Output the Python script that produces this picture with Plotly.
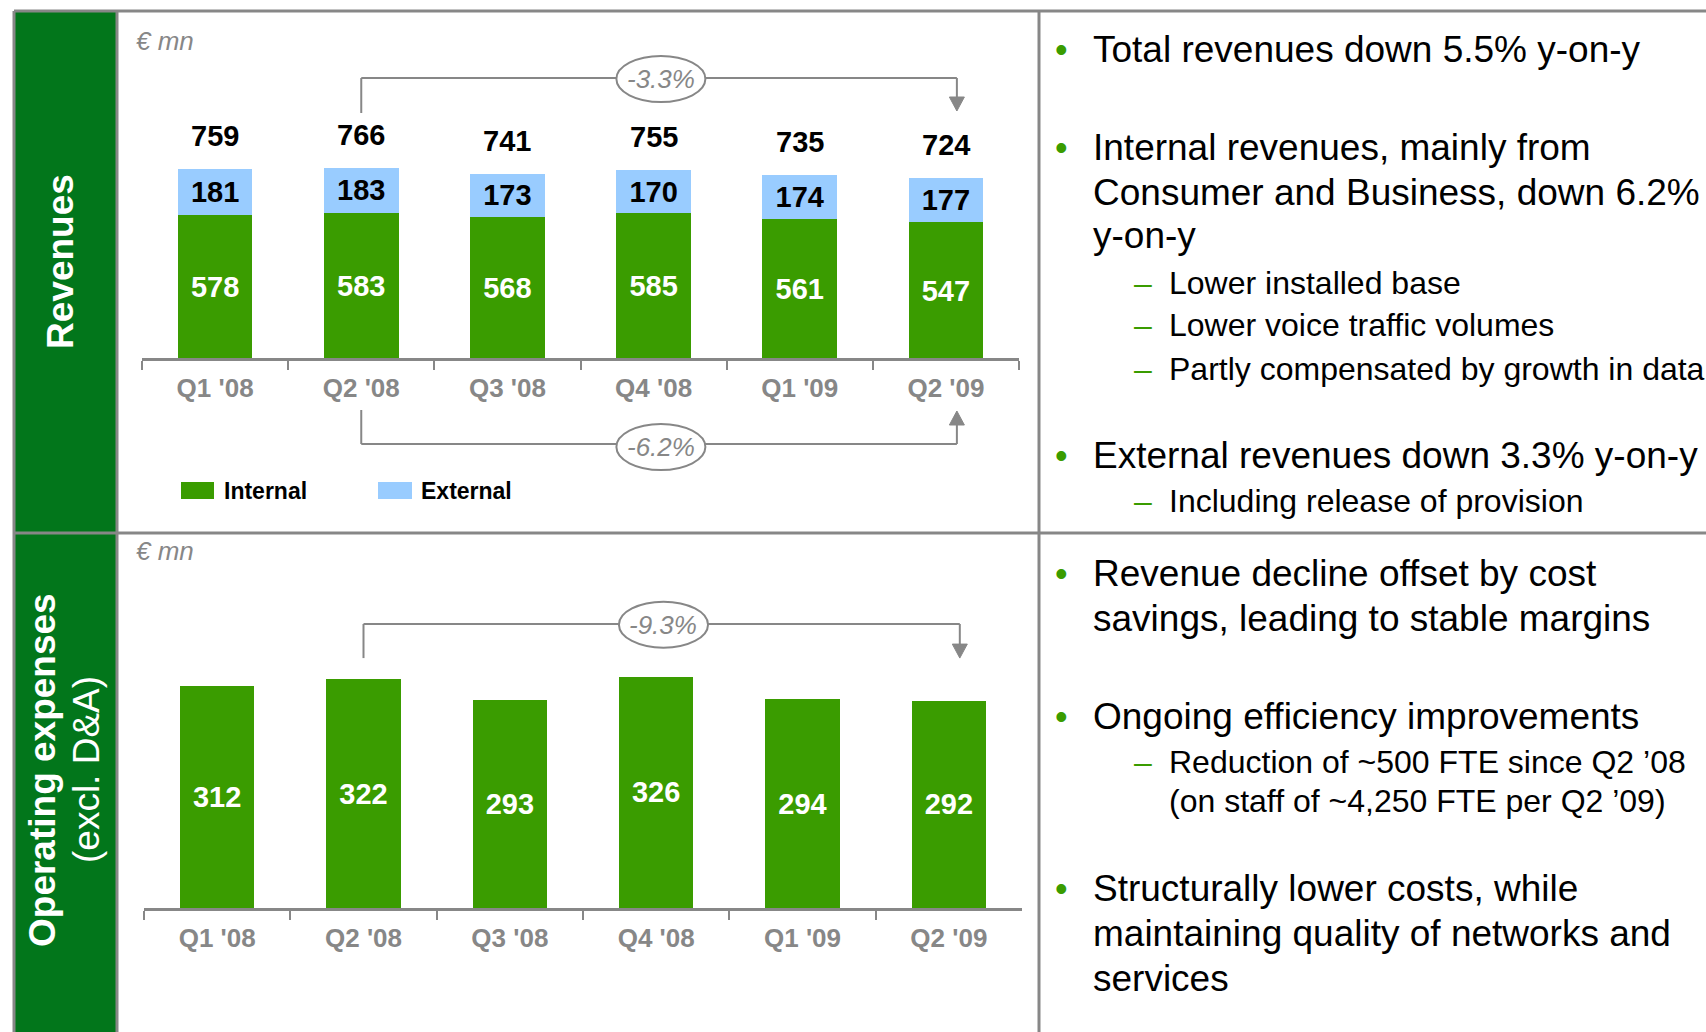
import plotly.graph_objects as go

# ---------------- data ----------------
quarters = ["Q1 '08", "Q2 '08", "Q3 '08", "Q4 '08", "Q1 '09", "Q2 '09"]
rev_internal = [578, 583, 568, 585, 561, 547]
rev_external = [181, 183, 173, 170, 174, 177]
rev_total = [759, 766, 741, 755, 735, 724]
opex = [312, 322, 293, 326, 294, 292]

rev_ext_change = "-3.3%"
rev_int_change = "-6.2%"
opex_change = "-9.3%"

legend_names = ["Internal", "External"]
unit_label = "€ mn"
panel_titles = ["Revenues", "Operating expenses", "(excl. D&A)"]

text_kinds = ["bullet", "bullet", "cont", "cont", "sub", "sub", "sub", "bullet", "sub",
              "bullet", "cont", "bullet", "sub", "subcont", "bullet", "cont", "cont"]
text_lines = [
    "Total revenues down 5.5% y-on-y",
    "Internal revenues, mainly from",
    "Consumer and Business, down 6.2%",
    "y-on-y",
    "Lower installed base",
    "Lower voice traffic volumes",
    "Partly compensated by growth in data",
    "External revenues down 3.3% y-on-y",
    "Including release of provision",
    "Revenue decline offset by cost",
    "savings, leading to stable margins",
    "Ongoing efficiency improvements",
    "Reduction of ~500 FTE since Q2 \u201908",
    "(on staff of ~4,250 FTE per Q2 \u201909)",
    "Structurally lower costs, while",
    "maintaining quality of networks and",
    "services",
]
text_y_px = [50, 147, 192, 236, 283, 325, 369, 455, 501, 573, 618, 716, 762, 801, 888, 933, 978]

# ---------------- style / layout ----------------
W, H = 1706, 1032
FONT = "Liberation Sans, Arial, Helvetica, sans-serif"
GREEN_PANEL = "#02761B"
GREEN_BAR = "#3A9C00"
BLUE = "#99CCFF"
GRAY = "#878787"


def px(x):
    return x / W


def py(y):
    return 1 - y / H


# revenue subplot geometry
rev_scale = 0.25           # px per EUR mn
rev_base_px = 359
rev_range = [-480, 1300]
rev_dom = [py(rev_base_px - rev_range[0] * rev_scale), py(rev_base_px - rev_range[1] * rev_scale)]
# opex subplot geometry
op_scale = 0.71
op_base_px = 908
op_range = [0, 500]
op_dom = [py(op_base_px), py(op_base_px - op_range[1] * op_scale)]

fig = go.Figure()

bar_common = dict(textposition="inside", insidetextanchor="middle", textangle=0,
                  hoverinfo="skip", showlegend=False, marker_line_width=0)

fig.add_trace(go.Bar(x=quarters, y=rev_internal, text=rev_internal, marker_color=GREEN_BAR,
                     textfont=dict(color="white", size=29, family=FONT, weight="bold"),
                     xaxis="x", yaxis="y", **bar_common))
fig.add_trace(go.Bar(x=quarters, y=rev_external, text=rev_external, marker_color=BLUE,
                     textfont=dict(color="black", size=29, family=FONT, weight="bold"),
                     xaxis="x", yaxis="y", **bar_common))
fig.add_trace(go.Bar(x=quarters, y=opex, text=opex, marker_color=GREEN_BAR,
                     textfont=dict(color="white", size=29, family=FONT, weight="bold"),
                     xaxis="x2", yaxis="y2", **bar_common))

xaxis_common = dict(type="category", range=[-0.5, 5.5], showline=True, linecolor=GRAY, linewidth=2.5,
                    ticks="outside", tickson="boundaries", ticklen=9, tickwidth=2, tickcolor=GRAY,
                    tickfont=dict(size=26, color=GRAY, family=FONT, weight="bold"),
                    showgrid=False, zeroline=False, fixedrange=True, ticklabelstandoff=5)

fig.update_layout(
    width=W, height=H,
    margin=dict(l=0, r=0, t=0, b=0),
    paper_bgcolor="white", plot_bgcolor="rgba(0,0,0,0)",
    barmode="stack", bargap=0.49,
    font=dict(family=FONT),
    xaxis=dict(domain=[px(142), px(1019)], anchor="free", position=py(rev_base_px), **xaxis_common),
    yaxis=dict(domain=rev_dom, range=rev_range, visible=False, anchor="x", fixedrange=True),
    xaxis2=dict(domain=[px(144), px(1022)], anchor="y2", **xaxis_common),
    yaxis2=dict(domain=op_dom, range=op_range, visible=False, anchor="x2", fixedrange=True),
)

shapes = []
annotations = []

# ---------------- frame ----------------
shapes.append(dict(type="rect", xref="paper", yref="paper", x0=px(14), x1=px(117), y0=py(533), y1=py(11),
                   fillcolor=GREEN_PANEL, line_width=0, layer="below"))
shapes.append(dict(type="rect", xref="paper", yref="paper", x0=px(14), x1=px(117), y0=py(H), y1=py(533),
                   fillcolor=GREEN_PANEL, line_width=0, layer="below"))
frame_lines = [
    (14, 11, W, 11), (14, 533, W, 533), (14, 11, 14, H), (117, 11, 117, H), (1039, 11, 1039, H)
]
for x0, y0, x1, y1 in frame_lines:
    shapes.append(dict(type="line", xref="paper", yref="paper", x0=px(x0), y0=py(y0), x1=px(x1), y1=py(y1),
                       line=dict(color=GRAY, width=3)))

# ---------------- brackets ----------------
def bracket(xr, yr, scale, x_start, x_end, y_level, y_start, y_tip, direction, label, cx, cy):
    lc = dict(color=GRAY, width=2)
    shapes.append(dict(type="line", xref=xr, yref=yr, x0=x_start, x1=x_start, y0=y_start, y1=y_level, line=lc))
    shapes.append(dict(type="line", xref=xr, yref=yr, x0=x_start, x1=x_end, y0=y_level, y1=y_level, line=lc))
    head = 14 / scale
    base = y_tip + direction * head
    shapes.append(dict(type="line", xref=xr, yref=yr, x0=x_end, x1=x_end, y0=y_level, y1=base, line=lc))
    hw = 7.5 / 146.2
    shapes.append(dict(type="path", xref=xr, yref=yr,
                       path=f"M {x_end - hw},{base} L {x_end + hw},{base} L {x_end},{y_tip} Z",
                       fillcolor=GRAY, line=dict(color=GRAY, width=1)))
    ew = 44.5 / 146.2
    eh = 23 / scale
    shapes.append(dict(type="circle", xref=xr, yref=yr, x0=cx - ew, x1=cx + ew, y0=cy - eh, y1=cy + eh,
                       fillcolor="white", line=dict(color=GRAY, width=2)))
    annotations.append(dict(xref=xr, yref=yr, x=cx, y=cy, text=f"<i>{label}</i>", showarrow=False,
                            xanchor="center", yanchor="middle",
                            font=dict(size=26, color=GRAY, family=FONT)))


q2 = quarters.index("Q2 '08")
q6 = quarters.index("Q2 '09")
bracket("x", "y", rev_scale, q2, q6 + 0.075, 1124, 984, 992, 1, rev_ext_change, 3.05, 1120)
bracket("x", "y", rev_scale, q2, q6 + 0.075, -340, -204, -208, -1, rev_int_change, 3.05, -352)
bracket("x2", "y2", op_scale, q2, q6 + 0.075, 400, 352, 352, 1, opex_change, 3.05, 399)

# ---------------- totals above revenue bars ----------------
for q, t in zip(quarters, rev_total):
    annotations.append(dict(xref="x", yref="y", x=q, y=t, text=f"<b>{t}</b>", showarrow=False,
                            xanchor="center", yanchor="middle", yshift=33,
                            font=dict(size=29, color="black", family=FONT)))

# ---------------- legend ----------------
for (x0, x1), col, name, tx in [((181, 214), GREEN_BAR, legend_names[0], 222),
                                ((378, 412), BLUE, legend_names[1], 419)]:
    shapes.append(dict(type="rect", xref="paper", yref="paper", x0=px(x0), x1=px(x1), y0=py(499), y1=py(482),
                       fillcolor=col, line_width=0))
    annotations.append(dict(xref="paper", yref="paper", x=px(tx), y=py(491), text=f"<b>{name}</b>",
                            showarrow=False, xanchor="left", yanchor="middle",
                            font=dict(size=23, color="black", family=FONT)))

# ---------------- unit labels ----------------
for yy in (41, 551):
    annotations.append(dict(xref="paper", yref="paper", x=px(134), y=py(yy), text=f"<i>{unit_label}</i>",
                            showarrow=False, xanchor="left", yanchor="middle",
                            font=dict(size=26, color=GRAY, family=FONT)))

# ---------------- panel titles ----------------
annotations.append(dict(xref="paper", yref="paper", x=px(60), y=py(262), text=f"<b>{panel_titles[0]}</b>",
                        textangle=-90, showarrow=False, xanchor="center", yanchor="middle",
                        font=dict(size=37, color="white", family=FONT)))
annotations.append(dict(xref="paper", yref="paper", x=px(42), y=py(770), text=f"<b>{panel_titles[1]}</b>",
                        textangle=-90, showarrow=False, xanchor="center", yanchor="middle",
                        font=dict(size=37, color="white", family=FONT)))
annotations.append(dict(xref="paper", yref="paper", x=px(86), y=py(770), text=panel_titles[2],
                        textangle=-90, showarrow=False, xanchor="center", yanchor="middle",
                        font=dict(size=37, color="white", family=FONT)))

# ---------------- commentary ----------------
for kind, line, yy in zip(text_kinds, text_lines, text_y_px):
    if kind == "bullet":
        annotations.append(dict(xref="paper", yref="paper", x=px(1061), y=py(yy), text="\u2022",
                                showarrow=False, xanchor="center", yanchor="middle",
                                font=dict(size=36, color=GREEN_BAR, family=FONT)))
    if kind == "sub":
        annotations.append(dict(xref="paper", yref="paper", x=px(1143), y=py(yy), text="\u2013",
                                showarrow=False, xanchor="center", yanchor="middle",
                                font=dict(size=32, color=GREEN_BAR, family=FONT)))
    tx = 1091 if kind in ("bullet", "cont") else 1167
    size = 37 if kind in ("bullet", "cont") else 32
    annotations.append(dict(xref="paper", yref="paper", x=px(tx), y=py(yy), text=line,
                            showarrow=False, xanchor="left", yanchor="middle",
                            font=dict(size=size, color="black", family=FONT)))

fig.update_layout(shapes=shapes, annotations=annotations)

fig.write_html("out.html", include_plotlyjs=True, full_html=True,
               config={"displayModeBar": False},
               post_script="document.body.style.margin='0';document.body.style.overflow='hidden';")
